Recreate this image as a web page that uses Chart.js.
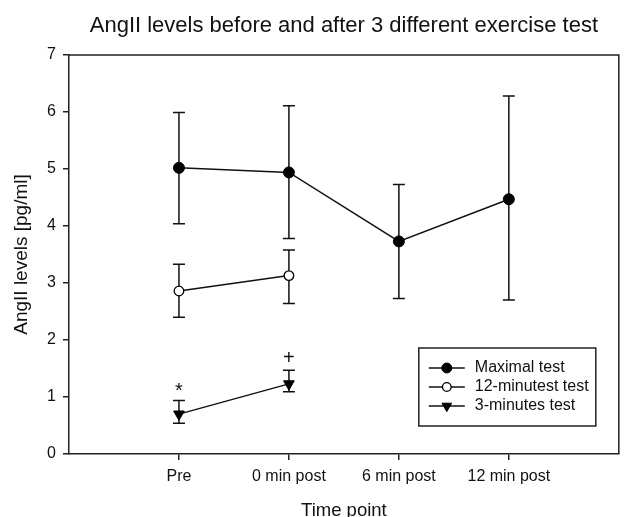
<!DOCTYPE html>
<html>
<head>
<meta charset="utf-8">
<script src="https://cdn.jsdelivr.net/npm/chart.js@4/dist/chart.umd.min.js"></script>
<style>
  html, body { margin: 0; padding: 0; background: #fff; }
  #c { display: block; }
</style>
</head>
<body>
<canvas id="c" width="626" height="517"></canvas>
<script>
// ---- data ----
const categories = ['Pre', '0 min post', '6 min post', '12 min post'];
const seriesNames = ['Maximal test', '12-minutest test', '3-minutes test'];

const maximalMean  = [5.02, 4.94, 3.73, 4.47];
const maximalUpper = [5.99, 6.11, 4.73, 6.28];
const maximalLower = [4.04, 3.78, 2.73, 2.70];

const twelveMean  = [2.86, 3.13];
const twelveUpper = [3.33, 3.58];
const twelveLower = [2.40, 2.64];

const threeMean  = [0.70, 1.23];
const threeUpper = [0.94, 1.47];
const threeLower = [0.54, 1.09];

const threeSigMarks = ['*', '+'];
const yTicks = [0, 1, 2, 3, 4, 5, 6, 7];

// ---- styling ----
const FONT = '"Liberation Sans", Arial, sans-serif';
const INK = '#111';

const toPoints = arr => arr.map((v, i) => ({ x: i + 1, y: v }));

const datasets = [
  {
    label: seriesNames[0],
    data: toPoints(maximalMean),
    errUpper: maximalUpper, errLower: maximalLower,
    borderColor: INK, borderWidth: 1.5,
    pointStyle: 'circle', pointRadius: 5.5, pointRotation: 0,
    pointBackgroundColor: '#000', pointBorderColor: '#000', pointBorderWidth: 1
  },
  {
    label: seriesNames[1],
    data: toPoints(twelveMean),
    errUpper: twelveUpper, errLower: twelveLower,
    borderColor: INK, borderWidth: 1.5,
    pointStyle: 'circle', pointRadius: 4.8, pointRotation: 0,
    pointBackgroundColor: '#fff', pointBorderColor: '#000', pointBorderWidth: 1.3
  },
  {
    label: seriesNames[2],
    data: toPoints(threeMean),
    errUpper: threeUpper, errLower: threeLower,
    sigMarks: threeSigMarks,
    borderColor: INK, borderWidth: 1.5,
    pointStyle: 'triangle', pointRadius: 6.2, pointRotation: 180,
    pointBackgroundColor: '#000', pointBorderColor: '#000', pointBorderWidth: 1
  }
];

const frame = {
  id: 'frame',
  beforeDatasetsDraw(chart) {
    const { ctx, chartArea: a } = chart;
    ctx.save();
    ctx.strokeStyle = '#222';
    ctx.lineWidth = 1.5;
    ctx.beginPath();
    ctx.moveTo(a.left, a.top);
    ctx.lineTo(a.right, a.top);
    ctx.lineTo(a.right, a.bottom);
    ctx.stroke();
    ctx.restore();
  }
};

const errorBars = {
  id: 'errorBars',
  beforeDatasetsDraw(chart) {
    const { ctx, scales: { x, y } } = chart;
    ctx.save();
    ctx.strokeStyle = INK;
    ctx.lineWidth = 1.5;
    chart.data.datasets.forEach(ds => {
      ds.errUpper.forEach((u, i) => {
        const px = x.getPixelForValue(i + 1);
        const pu = y.getPixelForValue(u);
        const pl = y.getPixelForValue(ds.errLower[i]);
        ctx.beginPath();
        ctx.moveTo(px, pu); ctx.lineTo(px, pl);
        ctx.moveTo(px - 6, pu); ctx.lineTo(px + 6, pu);
        ctx.moveTo(px - 6, pl); ctx.lineTo(px + 6, pl);
        ctx.stroke();
      });
    });
    ctx.restore();
  }
};

const sigMarks = {
  id: 'sigMarks',
  afterDatasetsDraw(chart) {
    const { ctx, scales: { x, y } } = chart;
    ctx.save();
    ctx.fillStyle = INK;
    ctx.font = '20px ' + FONT;
    ctx.textAlign = 'center';
    ctx.textBaseline = 'middle';
    chart.data.datasets.forEach(ds => {
      if (!ds.sigMarks) return;
      ds.sigMarks.forEach((t, i) => {
        const px = x.getPixelForValue(i + 1);
        const pu = y.getPixelForValue(ds.errUpper[i]);
        ctx.fillText(t, px, pu - 12 + (t === '*' ? 3 : 0));
      });
    });
    ctx.restore();
  }
};

const insideLegend = {
  id: 'insideLegend',
  afterDraw(chart) {
    const { ctx, chartArea: a } = chart;
    const w = 177, h = 78;
    const bx = a.right - 23 - w, by = a.bottom - 28 - h;
    ctx.save();
    ctx.fillStyle = '#fff';
    ctx.fillRect(bx, by, w, h);
    ctx.strokeStyle = '#222';
    ctx.lineWidth = 1.5;
    ctx.strokeRect(bx, by, w, h);
    ctx.font = '16px ' + FONT;
    ctx.textBaseline = 'middle';
    ctx.textAlign = 'left';
    chart.data.datasets.forEach((ds, i) => {
      const cy = by + 20 + i * 19;
      ctx.strokeStyle = INK;
      ctx.lineWidth = 1.5;
      ctx.beginPath();
      ctx.moveTo(bx + 10, cy);
      ctx.lineTo(bx + 46, cy);
      ctx.stroke();
      ctx.fillStyle = ds.pointBackgroundColor;
      ctx.strokeStyle = ds.pointBorderColor;
      ctx.lineWidth = ds.pointBorderWidth;
      Chart.helpers.drawPoint(ctx, {
        pointStyle: ds.pointStyle,
        radius: ds.pointRadius * 0.9,
        rotation: ds.pointRotation,
        borderWidth: ds.pointBorderWidth
      }, bx + 28, cy);
      ctx.fillStyle = INK;
      ctx.fillText(ds.label, bx + 56, cy);
    });
    ctx.restore();
  }
};

new Chart(document.getElementById('c'), {
  type: 'line',
  data: { datasets },
  plugins: [frame, errorBars, sigMarks, insideLegend],
  options: {
    responsive: false,
    animation: false,
    layout: { padding: { left: 0, right: 4, top: 0, bottom: 0 } },
    elements: { line: { tension: 0 } },
    plugins: {
      legend: { display: false },
      tooltip: { enabled: false },
      title: {
        display: true,
        text: 'AngII levels before and after 3 different exercise test',
        fullSize: false,
        color: INK,
        font: { family: FONT, size: 22, weight: 'normal' },
        padding: { top: 13, bottom: 15.6 }
      }
    },
    scales: {
      x: {
        type: 'linear',
        min: 0,
        max: categories.length + 1,
        afterBuildTicks: s => { s.ticks = categories.map((_, i) => ({ value: i + 1 })); },
        afterFit: s => { s.height = 63; },
        ticks: {
          autoSkip: false,
          maxRotation: 0,
          padding: 7,
          color: INK,
          font: { family: FONT, size: 16 },
          callback: v => categories[v - 1]
        },
        grid: { display: true, drawOnChartArea: false, drawTicks: true, tickLength: 6, color: '#222', lineWidth: 1.5 },
        border: { display: true, color: '#222', width: 1.5 },
        title: {
          display: true,
          text: 'Time point',
          color: INK,
          font: { family: FONT, size: 18.5 },
          padding: { top: 0, bottom: -5 }
        }
      },
      y: {
        type: 'linear',
        min: yTicks[0],
        max: yTicks[yTicks.length - 1],
        afterBuildTicks: s => { s.ticks = yTicks.map(v => ({ value: v })); },
        afterFit: s => { s.width = 69; },
        ticks: {
          padding: 7,
          color: INK,
          font: { family: FONT, size: 16 }
        },
        grid: { display: true, drawOnChartArea: false, drawTicks: true, tickLength: 6, color: '#222', lineWidth: 1.5 },
        border: { display: true, color: '#222', width: 1.5 },
        title: {
          display: true,
          text: 'AngII levels [pg/ml]',
          color: INK,
          font: { family: FONT, size: 19 },
          padding: { top: 10.6, bottom: 0 }
        }
      }
    }
  }
});
</script>
</body>
</html>
